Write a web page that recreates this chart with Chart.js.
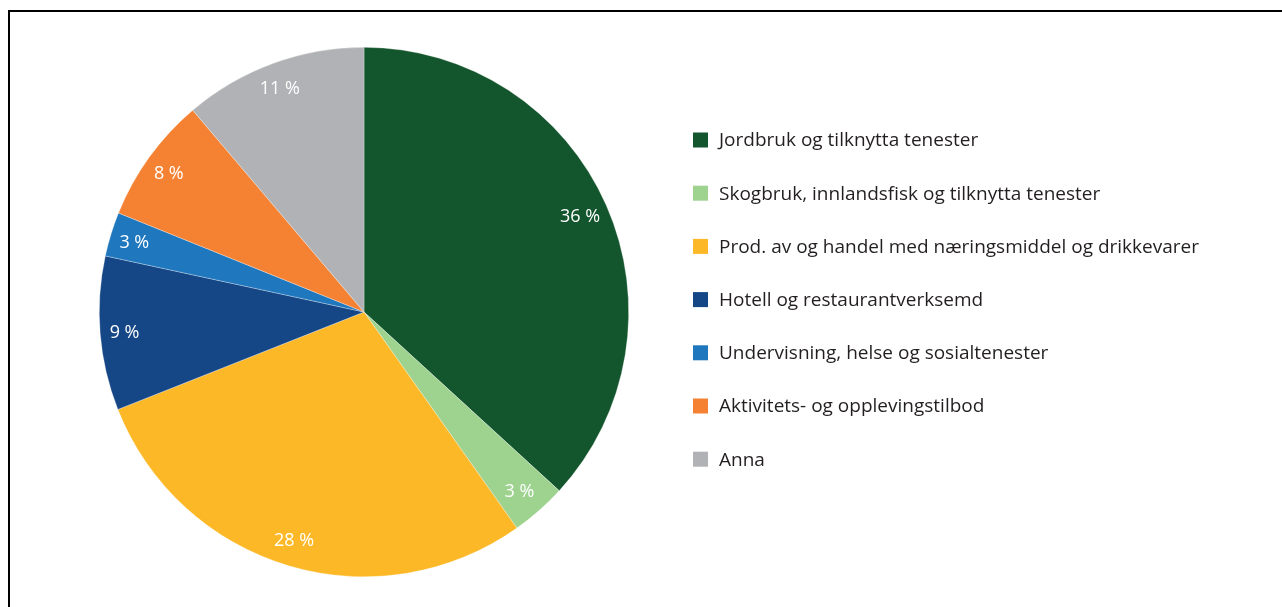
<!DOCTYPE html>
<html><head><meta charset="utf-8">
<script src="https://cdn.jsdelivr.net/npm/chart.js@4/dist/chart.umd.min.js"></script>
<style>
html,body{margin:0;padding:0;background:#fff;width:1282px;height:607px;overflow:hidden}
#frame{position:absolute;left:8px;top:10px;width:1280px;height:600px;border-top:2px solid #000;border-left:2px solid #000;}
#wrap{position:absolute;left:0;top:0;width:1282px;height:607px}
</style></head><body>
<div id="frame"></div>
<div id="wrap"><canvas id="c" width="1282" height="607"></canvas></div>
<script>
const categories = [
  "Jordbruk og tilknytta tenester",
  "Skogbruk, innlandsfisk og tilknytta tenester",
  "Prod. av og handel med næringsmiddel og drikkevarer",
  "Hotell og restaurantverksemd",
  "Undervisning, helse og sosialtenester",
  "Aktivitets- og opplevingstilbod",
  "Anna"
];
const shares = [36.8, 3.4, 28.8, 9.4, 2.7, 7.7, 11.2];
const shareLabels = ["36 %", "3 %", "28 %", "9 %", "3 %", "8 %", "11 %"];
const colors = ["#13552c", "#9dd28f", "#fcb826", "#154686", "#1f77be", "#f58233", "#b1b2b5"];

const FONT = "'Open Sans', 'Noto Sans', sans-serif";

const sliceLabels = {
  id: 'sliceLabels',
  afterDatasetsDraw(chart) {
    const ctx = chart.ctx;
    const meta = chart.getDatasetMeta(0);
    ctx.save();
    ctx.fillStyle = '#ffffff';
    ctx.font = '18px ' + FONT;
    ctx.textAlign = 'center';
    ctx.textBaseline = 'middle';
    meta.data.forEach((arc, i) => {
      const p = arc.getProps(['x','y','startAngle','endAngle','outerRadius']);
      const mid = (p.startAngle + p.endAngle) / 2;
      const r = p.outerRadius * 0.9;
      ctx.fillText(shareLabels[i], p.x + Math.cos(mid) * r - 2, p.y + Math.sin(mid) * r + 1);
    });
    ctx.restore();
  }
};

const sideLegend = {
  id: 'sideLegend',
  afterDraw(chart) {
    const ctx = chart.ctx;
    ctx.save();
    ctx.font = '19px ' + FONT;
    ctx.textBaseline = 'middle';
    ctx.textAlign = 'left';
    const x0 = 693, y0 = 140, step = 53.2, box = 15;
    categories.forEach((c, i) => {
      const y = y0 + i * step;
      ctx.fillStyle = colors[i];
      ctx.fillRect(x0, y - box / 2, box, box);
      ctx.fillStyle = '#231f20';
      ctx.fillText(c, x0 + 26, y + 1);
    });
    ctx.restore();
  }
};

new Chart(document.getElementById('c'), {
  type: 'pie',
  data: {
    labels: categories,
    datasets: [{
      data: shares,
      backgroundColor: colors,
      borderWidth: 0.6,
      borderColor: 'rgba(255,255,255,0.5)'
    }]
  },
  options: {
    responsive: false,
    animation: false,
    layout: { padding: { left: 99, right: 653, top: 47, bottom: 30 } },
    plugins: {
      legend: { display: false },
      tooltip: { enabled: false }
    }
  },
  plugins: [sliceLabels, sideLegend]
});
</script>
</body></html>
